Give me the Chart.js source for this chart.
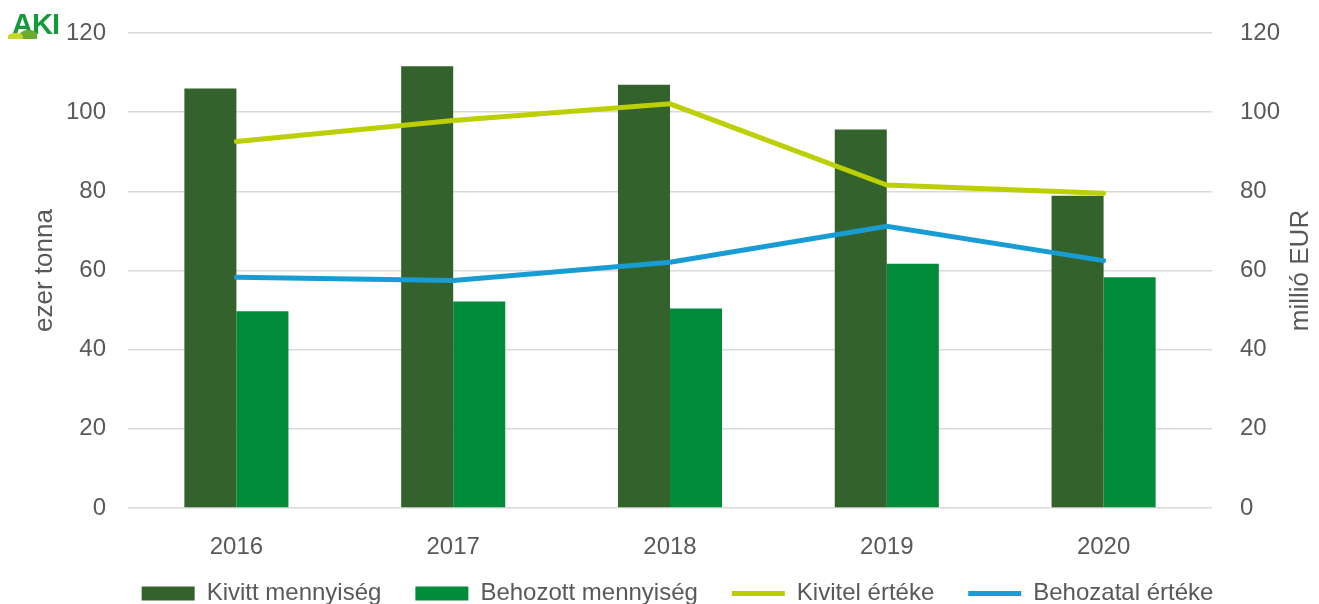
<!DOCTYPE html>
<html>
<head>
<meta charset="utf-8">
<script src="https://cdn.jsdelivr.net/npm/chart.js@4"></script>
<style>
  html, body { margin: 0; padding: 0; background: #fff; }
  #wrap { position: relative; width: 1319px; height: 604px; }
  #logo { position: absolute; left: 12px; top: 8px; font: bold 29px/32px "Liberation Sans", Arial, sans-serif; color: #149a3a; letter-spacing: -1px; }
  .hill { position: absolute; border-radius: 50% 50% 0 0; }
</style>
</head>
<body>
<div id="wrap">
  <canvas id="c" width="1319" height="604"></canvas>
  <div id="logo">AKI</div>
  <div class="hill" style="left:20px;top:30px;width:17px;height:9px;background:#6aab2e"></div>
  <div class="hill" style="left:8px;top:33px;width:15px;height:6px;background:#c5d82a"></div>
</div>
<script>
// data
const years = ["2016", "2017", "2018", "2019", "2020"];
const kivittMenny = [106.0, 111.6, 106.9, 95.6, 78.9];   // ezer tonna
const behozottMenny = [49.7, 52.2, 50.4, 61.7, 58.3];   // ezer tonna
const kivitelErtek = [92.6, 97.9, 102.1, 81.6, 79.5];   // millió EUR
const behozatalErtek = [58.3, 57.5, 62.1, 71.2, 62.5];  // millió EUR

const gray = "#595959";
const font = "'Liberation Sans', Arial, sans-serif";
const legendPad = 34;

// both axis titles read bottom-to-top, drawn by hand
const axisTitles = {
  id: "axisTitles",
  beforeLayout(chart) {
    // legend box only as tall as what is left under the x labels
    const lg = chart.legend;
    if (lg && !lg._patched) {
      const fit = lg.fit;
      lg.fit = function () { fit.call(this); this.height = 50; };
      lg._patched = true;
    }
  },
  afterLayout(chart) {
    // pull legend row up so the text sits at the very bottom like the original
    const lg = chart.legend;
    lg.top = 581.5 - legendPad;
    lg.bottom = chart.height;
    lg.height = lg.bottom - lg.top;
  },
  afterDraw(chart) {
    const ctx = chart.ctx;
    const midY = (chart.chartArea.top + chart.chartArea.bottom) / 2;
    ctx.save();
    ctx.fillStyle = gray;
    ctx.font = "26px " + font;
    ctx.textAlign = "center";
    ctx.textBaseline = "middle";
    [[45, "ezer tonna"], [1301, "millió EUR"]].forEach(([x, t]) => {
      ctx.save();
      ctx.translate(x, midY);
      ctx.rotate(-Math.PI / 2);
      ctx.fillText(t, 0, 0);
      ctx.restore();
    });
    ctx.restore();
  }
};

const noPad = (w) => (s) => { s.width = w; s.paddingTop = 0; s.paddingBottom = 0; };

new Chart(document.getElementById("c"), {
  data: {
    labels: years,
    datasets: [
      {
        type: "bar",
        label: "Kivitt mennyiség",
        data: kivittMenny,
        backgroundColor: "#34622c",
        yAxisID: "y",
        order: 2,
        pointStyle: "rect"
      },
      {
        type: "bar",
        label: "Behozott mennyiség",
        data: behozottMenny,
        backgroundColor: "#008c3a",
        yAxisID: "y",
        order: 2,
        pointStyle: "rect"
      },
      {
        type: "line",
        label: "Kivitel értéke",
        data: kivitelErtek,
        borderColor: "#bccf00",
        backgroundColor: "#bccf00",
        borderWidth: 5,
        borderCapStyle: "round",
        pointRadius: 0,
        pointStyle: "line",
        yAxisID: "y1",
        order: 1
      },
      {
        type: "line",
        label: "Behozatal értéke",
        data: behozatalErtek,
        borderColor: "#179dd3",
        backgroundColor: "#179dd3",
        borderWidth: 5,
        borderCapStyle: "round",
        pointRadius: 0,
        pointStyle: "line",
        yAxisID: "y1",
        order: 1
      }
    ]
  },
  options: {
    responsive: false,
    animation: false,
    layout: { padding: { left: 36, right: 0, top: 33, bottom: 0 } },
    datasets: {
      bar: { categoryPercentage: 0.48, barPercentage: 1 }
    },
    plugins: {
      tooltip: { enabled: false },
      legend: {
        position: "bottom",
        labels: {
          usePointStyle: true,
          pointStyleWidth: 53,
          boxHeight: 14,
          padding: legendPad,
          color: gray,
          font: { family: font, size: 24 },
          sort: (a, b) => a.datasetIndex - b.datasetIndex
        }
      }
    },
    scales: {
      x: {
        grid: { display: false },
        border: { display: false },
        ticks: { color: gray, font: { family: font, size: 24 }, padding: 17 },
        afterFit: (s) => { s.height = 46; }
      },
      y: {
        position: "left",
        min: 0,
        max: 120,
        ticks: { stepSize: 20, color: gray, font: { family: font, size: 24 }, padding: 22 },
        grid: { color: "#d9d9d9", lineWidth: 1.5, drawTicks: false },
        border: { display: false },
        afterFit: noPad(92)
      },
      y1: {
        position: "right",
        min: 0,
        max: 120,
        ticks: { stepSize: 20, color: gray, font: { family: font, size: 24 }, padding: 28 },
        grid: { display: false, drawTicks: false },
        border: { display: false },
        afterFit: noPad(107)
      }
    }
  },
  plugins: [axisTitles]
});
</script>
</body>
</html>
